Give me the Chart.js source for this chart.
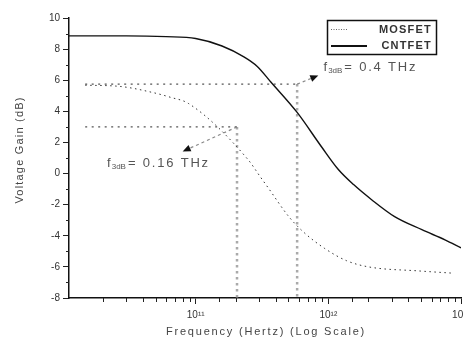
<!DOCTYPE html>
<html>
<head>
<meta charset="utf-8">
<script src="https://cdn.jsdelivr.net/npm/chart.js@4.4.0/dist/chart.umd.min.js"></script>
<style>
  html, body { margin: 0; padding: 0; background: #fff; }
  #wrap { width: 463px; height: 342px; position: relative; }
</style>
</head>
<body>
<div id="wrap"><canvas id="gainChart" width="463" height="342"></canvas></div>
<script>
// frequency in Hz, gain in dB
const cntFreq = [1.11e10, 3e10, 6e10, 1e11, 1.58e11, 2.31e11, 2.9e11, 3.7e11, 5.82e11, 8.85e11, 1.19e12, 1.55e12, 2.12e12, 3.16e12, 5.07e12, 7.57e12, 1e13];
const cntGain = [8.85, 8.85, 8.8, 8.68, 8.2, 7.5, 6.9, 5.87, 3.93, 1.74, 0.26, -0.71, -1.68, -2.77, -3.61, -4.26, -4.77];

const mosFreq = [1.47e10, 2.7e10, 4.8e10, 6.47e10, 8.85e10, 2.48e11, 3.1e11, 3.51e11, 5.07e11, 6.58e11, 9.33e11, 1.37e12, 2.01e12, 4.81e12, 8.55e12];
const mosGain = [5.68, 5.6, 5.2, 4.9, 4.5, 0.9, -0.26, -0.9, -2.8, -3.8, -4.8, -5.6, -6.0, -6.26, -6.4];

// 3 dB guide lines: [CNTFET, MOSFET]
const guideStart = 1.47e10;
const guideFreq = [5.82e11, 2.05e11];
const guideLevel = [5.75, 3];
const guideText = ['0.4 THz', '0.16 THz'];

const xMin = 1.11e10, xMax = 1e13;
const yMin = -8, yMax = 10;

const FONT = "'Liberation Sans', Arial, Helvetica, sans-serif";
Chart.defaults.font.family = FONT;

const sup = { '11': '\u00b9\u00b9', '12': '\u00b9\u00b2', '13': '\u00b9\u00b3' };

function pts(xs, ys) {
    return xs.map((x, i) => ({ x: x, y: ys[i] }));
}

const datasets = [];
guideFreq.forEach((f, i) => {
    datasets.push({
        label: 'h' + i,
        data: [{ x: guideStart, y: guideLevel[i] }, { x: f, y: guideLevel[i] }],
        borderColor: '#555',
        borderWidth: 1.4,
        borderDash: [2, 4.5],
        pointRadius: 0,
        order: 5
    });
    datasets.push({
        label: 'v' + i,
        data: [{ x: f, y: guideLevel[i] }, { x: f, y: yMin }],
        borderColor: '#aaa',
        borderWidth: 2.5,
        borderDash: [2.5, 3.5],
        pointRadius: 0,
        order: 6
    });
});
datasets.push({
    label: 'MOSFET',
    data: pts(mosFreq, mosGain),
    borderColor: '#333',
    borderWidth: 1,
    borderDash: [1.5, 3.5],
    pointRadius: 0,
    cubicInterpolationMode: 'monotone',
    order: 2
});
datasets.push({
    label: 'CNTFET',
    data: pts(cntFreq, cntGain),
    borderColor: '#111',
    borderWidth: 1.4,
    pointRadius: 0,
    cubicInterpolationMode: 'monotone',
    order: 1
});

function isDecade(v) {
    const l = Math.log10(v);
    return Math.abs(l - Math.round(l)) < 1e-6;
}

// minor ticks, titles, legend box, 3dB callouts
const decor = {
    id: 'decor',
    afterDraw(chart) {
        const c = chart.ctx;
        const xs = chart.scales.x, ys = chart.scales.y;
        const area = chart.chartArea;
        c.save();

        // minor ticks
        c.strokeStyle = '#222';
        c.lineWidth = 1;
        c.beginPath();
        for (let v = yMin + 1; v < yMax; v += 2) {
            const py = Math.round(ys.getPixelForValue(v)) + 0.5;
            c.moveTo(area.left - 3, py);
            c.lineTo(area.left, py);
        }
        xs.ticks.forEach(t => {
            if (isDecade(t.value) || t.value <= xMin) return;
            const px = Math.round(xs.getPixelForValue(t.value)) + 0.5;
            c.moveTo(px, area.bottom);
            c.lineTo(px, area.bottom + 4);
        });
        c.stroke();

        // axis titles
        c.fillStyle = '#444';
        c.font = '11px ' + FONT;
        c.letterSpacing = '1.8px';
        c.textAlign = 'center';
        c.textBaseline = 'middle';
        c.fillText('Frequency (Hertz) (Log Scale)', 266, 332);
        c.save();
        c.translate(20, 150);
        c.rotate(-Math.PI / 2);
        c.letterSpacing = '1.2px';
        c.fillText('Voltage Gain (dB)', 0, 0);
        c.restore();

        // legend
        c.letterSpacing = '0px';
        c.strokeStyle = '#111';
        c.lineWidth = 1.5;
        c.strokeRect(327.5, 20.5, 109, 34);
        c.lineWidth = 1;
        c.strokeStyle = '#666';
        c.setLineDash([1, 1.5]);
        c.beginPath(); c.moveTo(331, 29.5); c.lineTo(348, 29.5); c.stroke();
        c.setLineDash([]);
        c.strokeStyle = '#111';
        c.lineWidth = 2;
        c.beginPath(); c.moveTo(331, 46); c.lineTo(367, 46); c.stroke();
        c.fillStyle = '#333';
        c.font = 'bold 11px ' + FONT;
        c.letterSpacing = '1.2px';
        c.textAlign = 'right';
        c.fillText('MOSFET', 432, 30);
        c.fillText('CNTFET', 432, 46);

        // 3dB callouts
        const callouts = [
            { from: [guideFreq[0], guideLevel[0]], tip: [8.4e11, 6.3], text: [9.2e11, 6.6] },
            { from: [guideFreq[1], guideLevel[1]], tip: [7.98e10, 1.42], text: [2.15e10, 0.45] }
        ];
        callouts.forEach((co, i) => {
            const x0 = xs.getPixelForValue(co.from[0]), y0 = ys.getPixelForValue(co.from[1]);
            const x1 = xs.getPixelForValue(co.tip[0]), y1 = ys.getPixelForValue(co.tip[1]);
            const ang = Math.atan2(y1 - y0, x1 - x0);
            const bx = x1 - 8 * Math.cos(ang), by = y1 - 8 * Math.sin(ang);
            c.strokeStyle = '#888';
            c.lineWidth = 1.2;
            c.setLineDash([3, 3]);
            c.beginPath(); c.moveTo(x0, y0); c.lineTo(bx, by); c.stroke();
            c.setLineDash([]);
            c.fillStyle = '#111';
            c.beginPath();
            c.moveTo(x1, y1);
            c.lineTo(bx + 3.5 * Math.sin(ang), by - 3.5 * Math.cos(ang));
            c.lineTo(bx - 3.5 * Math.sin(ang), by + 3.5 * Math.cos(ang));
            c.closePath();
            c.fill();

            let tx = xs.getPixelForValue(co.text[0]);
            const ty = ys.getPixelForValue(co.text[1]);
            c.fillStyle = '#555';
            c.textAlign = 'left';
            c.textBaseline = 'alphabetic';
            c.letterSpacing = '0px';
            c.font = '13px ' + FONT;
            c.fillText('f', tx, ty);
            tx += c.measureText('f').width + 1;
            c.font = '8px ' + FONT;
            c.fillText('3dB', tx, ty + 2);
            tx += c.measureText('3dB').width + 2;
            c.font = '13px ' + FONT;
            c.letterSpacing = '1.8px';
            c.fillText('= ' + guideText[i], tx, ty);
        });
        c.restore();
    }
};

const ctx = document.getElementById('gainChart').getContext('2d');
new Chart(ctx, {
    type: 'line',
    data: { datasets: datasets },
    options: {
        responsive: false,
        animation: false,
        layout: { padding: { top: 18, right: 2, left: 0, bottom: 0 } },
        plugins: {
            legend: { display: false },
            tooltip: { enabled: false }
        },
        scales: {
            x: {
                type: 'logarithmic',
                min: xMin,
                max: xMax,
                border: { display: true, color: '#111', width: 1.5 },
                grid: {
                    drawOnChartArea: false,
                    drawTicks: true,
                    tickLength: 6,
                    tickColor: (c) => (c.tick && isDecade(c.tick.value)) ? '#222' : 'rgba(0,0,0,0)'
                },
                ticks: {
                    autoSkip: false,
                    maxRotation: 0,
                    padding: 5,
                    color: '#333',
                    font: { size: 10 },
                    callback: (v) => {
                        if (!isDecade(v)) return '';
                        const e = String(Math.round(Math.log10(v)));
                        return '10' + (sup[e] || '');
                    }
                },
                afterFit: (s) => { s.height = 44; s.paddingLeft = 0; s.paddingRight = 0; }
            },
            y: {
                min: yMin,
                max: yMax,
                border: { display: true, color: '#111', width: 1.5 },
                grid: {
                    drawOnChartArea: false,
                    drawTicks: true,
                    tickLength: 6,
                    tickColor: (c) => (c.tick && c.tick.value % 2 === 0) ? '#222' : 'rgba(0,0,0,0)'
                },
                ticks: {
                    stepSize: 1,
                    autoSkip: false,
                    padding: 3,
                    color: '#333',
                    font: { size: 10 },
                    callback: (v) => v % 2 === 0 ? v : ''
                },
                afterFit: (s) => { s.width = 69; s.paddingTop = 0; s.paddingBottom = 0; }
            }
        }
    },
    plugins: [decor]
});
</script>
</body>
</html>
